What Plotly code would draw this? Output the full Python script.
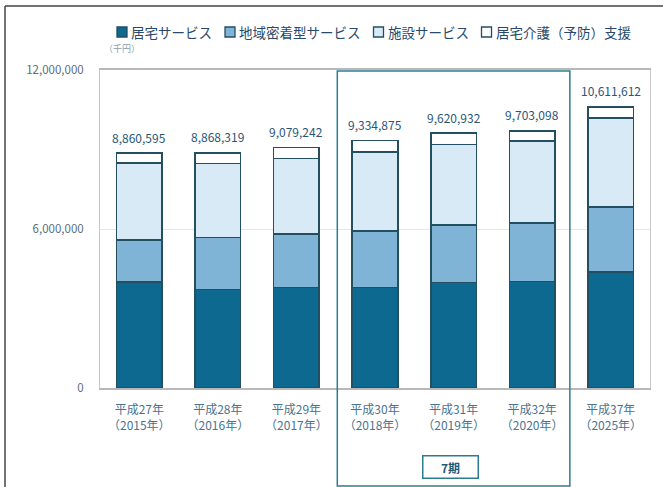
import plotly.graph_objects as go

categories = ["平成27年<br>（2015年）", "平成28年<br>（2016年）", "平成29年<br>（2017年）",
              "平成30年<br>（2018年）", "平成31年<br>（2019年）", "平成32年<br>（2020年）",
              "平成37年<br>（2025年）"]
series_names = ["居宅サービス", "地域密着型サービス", "施設サービス", "居宅介護（予防）支援"]
kyotaku = [4000000, 3725000, 3785000, 3790000, 3980000, 4010000, 4380000]
chiiki = [1585000, 1960000, 2030000, 2140000, 2180000, 2220000, 2450000]
shisetsu = [2900000, 2780000, 2840000, 2970000, 3030000, 3090000, 3350000]
shien = [375595, 403319, 424242, 434875, 430932, 383098, 431612]
totals = [8860595, 8868319, 9079242, 9334875, 9620932, 9703098, 10611612]
y_ticks = [0, 6000000, 12000000]
y_tick_text = ["0", "6,000,000", "12,000,000"]

colors = ["#0d6990", "#7fb4d6", "#d8eaf6", "#ffffff"]
outline = "#234f60"
font_family = "Noto Sans CJK JP, Noto Sans, sans-serif"

W, H = 663, 487
ML, MR, MT, MB = 100, 13, 70, 99
PW, PH = W - ML - MR, H - MT - MB


def px(x):
    return (x - ML) / PW


def py(y):
    return (H - MB - y) / PH


fig = go.Figure()
for name, vals, col in zip(series_names, [kyotaku, chiiki, shisetsu, shien], colors):
    fig.add_trace(go.Bar(
        x=categories, y=vals, name=name, showlegend=False,
        marker=dict(color=col, line=dict(color=outline, width=1.5)),
    ))

for c, t in zip(categories, totals):
    fig.add_annotation(x=c, y=t, text=f"{t:,}", showarrow=False, yshift=16,
                       font=dict(size=12, color="#2a5675", family=font_family))

# manual legend (squares + labels), evenly packed
leg_font = 13.5
leg_gap = 14
sx = 117
for name, col in zip(series_names, colors):
    fig.add_shape(type="rect", xref="paper", yref="paper",
                  x0=px(sx), x1=px(sx + 10), y0=py(37), y1=py(27),
                  fillcolor=col, line=dict(color=outline, width=1.3))
    fig.add_annotation(xref="paper", yref="paper", x=px(sx + 12), y=py(32), text=name,
                       showarrow=False, xanchor="left", yanchor="middle",
                       font=dict(size=leg_font, color="#28496a", family=font_family))
    sx += 13 + len(name) * leg_font + leg_gap

# 7期 frame
fig.add_shape(type="rect", xref="x", yref="paper", x0=2.52, x1=5.48, y0=py(486), y1=py(71),
              line=dict(color="#2c7d93", width=1.5), fillcolor="rgba(0,0,0,0)", layer="above")
fig.add_annotation(xref="x", yref="paper", x=3.96, y=py(467), text="<b>7期</b>", showarrow=False,
                   xanchor="center", yanchor="middle",
                   font=dict(size=12, color="#1f5a78", family=font_family),
                   bordercolor="#2c7d93", borderwidth=1.5, borderpad=2, width=50, height=17,
                   bgcolor="white")

fig.add_annotation(xref="paper", yref="paper", x=px(102), y=py(49), text="（千円）", showarrow=False,
                   xanchor="left", yanchor="middle",
                   font=dict(size=9, color="#8aa0b0", family=font_family))

# outer frame (top and left)
fig.add_shape(type="line", xref="paper", yref="paper", x0=px(5), x1=px(663), y0=py(6), y1=py(6),
              line=dict(color="#444444", width=1.5))
fig.add_shape(type="line", xref="paper", yref="paper", x0=px(5), x1=px(5), y0=py(6), y1=py(487),
              line=dict(color="#444444", width=1.5))

fig.update_layout(
    width=W, height=H,
    margin=dict(l=ML, r=MR, t=MT, b=MB),
    barmode="stack", bargap=0.42,
    plot_bgcolor="white", paper_bgcolor="white",
    font=dict(family=font_family, color="#3d6680"),
    showlegend=False,
    xaxis=dict(showline=True, linecolor="#b8b8b8", linewidth=1.5, mirror=True,
               tickfont=dict(size=12, color="#4a7390"), ticks="", ticklabelstandoff=10),
    yaxis=dict(range=[0, 12000000], tickvals=y_ticks, ticktext=y_tick_text,
               showline=True, linecolor="#c8c8c8", linewidth=1, mirror=True,
               showgrid=True, gridcolor="#f0e4d8", gridwidth=1, zeroline=False,
               tickfont=dict(size=11.5, color="#5a6c7a"), ticklabelstandoff=13),
)

fig.write_html("out.html")
